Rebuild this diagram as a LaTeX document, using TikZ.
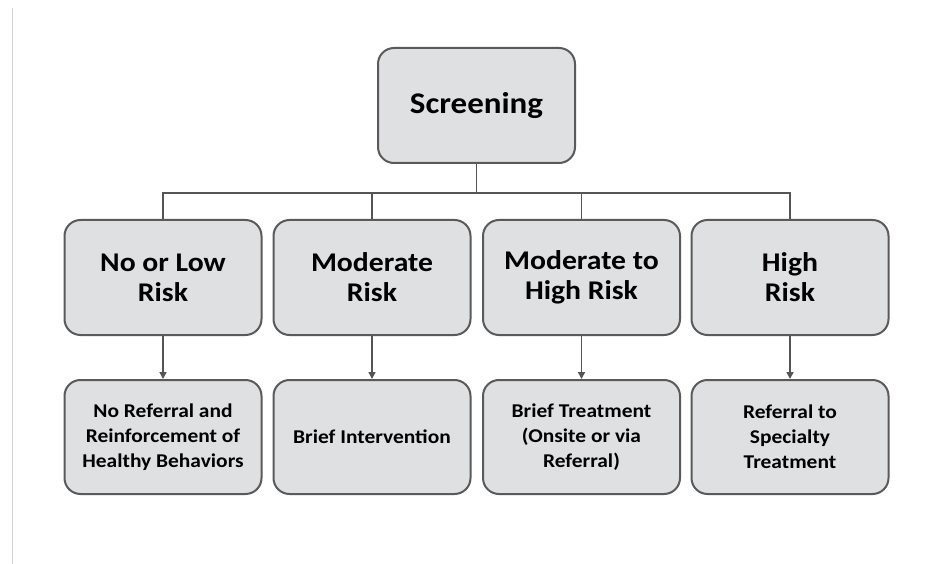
\documentclass[tikz,border=0pt]{standalone}
\usepackage{fontspec}
\setmainfont{Carlito}[FakeStretch=1.1]
\usetikzlibrary{arrows.meta}
\definecolor{boxfill}{HTML}{DFE0E2}
\definecolor{boxline}{HTML}{5A5A5A}
\definecolor{conn}{HTML}{555555}
\tikzset{
  box/.style={draw=boxline, line width=2pt, fill=boxfill, rounded corners=16pt, align=center, inner sep=0pt},
  topbox/.style={box, minimum width=197pt, minimum height=115pt, font=\bfseries\fontsize{27}{30}\selectfont},
  botbox/.style={box, minimum width=197pt, minimum height=114pt, font=\bfseries\fontsize{19.5}{25}\selectfont},
  link/.style={draw=conn, line width=1.6pt},
  arr/.style={link, -{Triangle[length=7pt,width=7pt]}}
}
\begin{document}
\begin{tikzpicture}[x=1pt,y=-1pt]
\useasboundingbox (0,0) rectangle (940,564);
\fill[white] (0,0) rectangle (940,564);
\draw[black!18, line width=1pt] (12,8) -- (12,564);
\node[topbox, font=\bfseries\fontsize{30}{32}\selectfont] (scr) at (476.5,105.5) {Screening};
\node[topbox] (r1) at (163,277.5) {No or Low\\Risk};
\node[topbox] (r2) at (372,277.5) {Moderate\\Risk};
\node[topbox] (r3) at (581.5,277.5) {Moderate to\\High Risk};
\node[topbox] (r4) at (790,277.5) {High\\Risk};
\node[botbox] (a1) at (163,437) {No Referral and\\Reinforcement of\\Healthy Behaviors};
\node[botbox] (a2) at (372,437) {Brief Intervention};
\node[botbox] (a3) at (581.5,437) {Brief Treatment\\(Onsite or via\\Referral)};
\node[botbox] (a4) at (790,437) {Referral to\\Specialty\\Treatment};
\coordinate (bus) at (476.5,193);
\draw[link] (scr.south) -- (bus);
\draw[link] (r1.north) |- (bus) -| (r4.north);
\draw[link] (r2.north) -- (r2.north |- bus);
\draw[link] (r3.north) -- (r3.north |- bus);
\draw[arr] (r1.south) -- (a1.north);
\draw[arr] (r2.south) -- (a2.north);
\draw[arr] (r3.south) -- (a3.north);
\draw[arr] (r4.south) -- (a4.north);
\end{tikzpicture}
\end{document}
